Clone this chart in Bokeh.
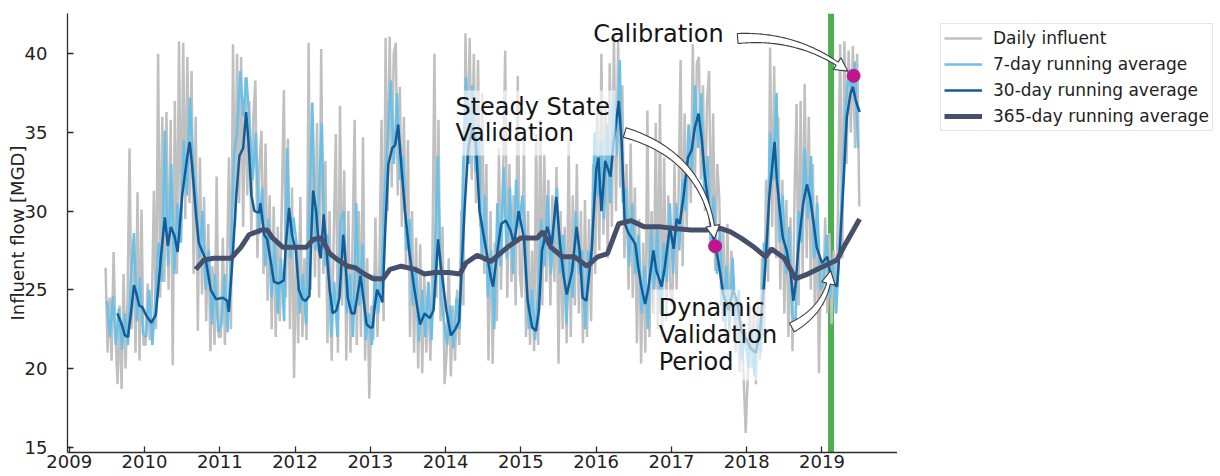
import numpy as np
from bokeh.plotting import figure
from bokeh.layouts import row
from bokeh.models import (Range1d, FixedTicker, PrintfTickFormatter, Span,
                          Legend, LegendItem)
from bokeh.core.properties import value
from bokeh.embed import file_html
from bokeh.resources import INLINE

FONT = "DejaVu Sans"

# ---------------------------------------------------------------------------
# Daily influent flow [MGD], sampled roughly every ten days, one list per year
# ---------------------------------------------------------------------------
influent_2009 = [26.4, 21.0, 24.5, 20.5, 27.4, 22.0, 19.0, 24.0, 18.7, 26.0,
                 20.0, 24.5, 34.0, 22.5, 27.7, 21.0, 31.2, 20.5, 30.1, 21.5]
influent_2010 = [21.5, 25.4, 21.8, 24.0, 31.3, 22.5, 40.0, 24.5, 36.0, 25.5,
                 36.3, 25.0, 35.8, 20.2, 37.0, 26.0, 40.8, 28.0, 40.7, 29.5,
                 39.8, 30.5, 38.9, 26.0, 36.0, 22.4, 33.4, 24.7, 30.9, 23.0,
                 29.2, 21.1, 26.5, 21.5, 32.2, 22.0]
influent_2011 = [22.0, 28.3, 21.5, 26.0, 33.4, 22.5, 40.6, 29.0, 40.0, 30.5,
                 39.8, 29.0, 38.5, 31.0, 37.0, 28.6, 36.0, 38.3, 27.0, 33.0,
                 35.1, 26.0, 34.3, 24.3, 31.0, 22.5, 30.3, 22.0, 29.0, 23.0,
                 30.5, 37.7, 24.5, 34.6, 22.5, 31.5, 19.4]
influent_2012 = [27.9, 21.6, 30.9, 22.0, 27.0, 21.8, 40.7, 25.0, 36.0, 25.8,
                 35.6, 24.5, 40.3, 26.0, 33.2, 21.6, 30.0, 20.5, 28.5, 34.9,
                 21.0, 36.7, 24.0, 32.6, 20.5, 30.0, 21.0, 28.0, 35.8, 21.5,
                 30.0, 22.0, 34.7, 20.5, 27.0, 18.1]
influent_2013 = [24.0, 21.8, 29.6, 22.0, 27.0, 35.8, 23.0, 41.0, 30.0, 41.1,
                 31.5, 40.0, 40.7, 31.0, 37.9, 29.0, 36.0, 26.5, 34.5, 22.0,
                 30.0, 21.0, 28.3, 20.0, 27.9, 19.7, 26.0, 21.0, 25.5, 20.5,
                 27.0, 40.0, 24.5, 35.8, 23.0, 29.0, 19.0]
influent_2014 = [21.0, 27.0, 19.5, 24.0, 20.5, 25.0, 21.5, 30.0, 24.0, 41.3,
                 33.0, 41.0, 32.0, 40.0, 30.5, 39.6, 29.0, 37.5, 26.0, 33.0,
                 20.5, 30.0, 20.3, 28.0, 23.0, 34.0, 25.0, 32.5, 40.2, 24.5,
                 33.0, 25.5, 31.0, 24.0, 38.6, 26.0]
influent_2015 = [24.5, 34.7, 22.0, 30.0, 21.5, 27.5, 21.1, 34.9, 21.5, 35.8,
                 24.0, 33.6, 25.5, 32.0, 24.0, 31.0, 25.5, 32.8, 20.3, 30.0,
                 22.5, 29.0, 21.6, 34.5, 22.0, 31.0, 24.0, 33.0, 23.5, 30.0,
                 21.6, 30.7, 22.0, 29.5, 23.0, 33.0, 26.0]
influent_2016 = [36.6, 27.5, 40.0, 28.5, 37.0, 27.0, 39.4, 29.0, 41.2, 30.0,
                 40.8, 31.5, 38.0, 27.0, 33.0, 25.0, 34.3, 24.5, 31.5, 21.6,
                 29.5, 20.3, 28.0, 21.0, 36.4, 22.0, 30.0, 23.5, 35.6, 22.5,
                 36.8, 22.0, 33.4, 23.0, 31.0, 25.0]
influent_2017 = [24.0, 33.0, 25.0, 31.0, 39.6, 26.5, 36.2, 29.0, 35.5, 30.5,
                 40.6, 31.5, 39.4, 39.8, 32.0, 38.0, 30.0, 37.0, 38.9, 28.0,
                 36.2, 26.2, 33.0, 30.9, 24.0, 29.0, 21.6, 29.2, 22.0, 27.5,
                 25.2, 21.0, 24.5, 19.8, 23.0, 19.4, 15.9]
influent_2018 = [19.5, 24.0, 20.0, 23.5, 19.0, 24.3, 20.5, 27.0, 22.0, 32.0,
                 25.5, 40.4, 29.0, 39.2, 27.0, 36.0, 25.0, 32.0, 23.5, 30.7,
                 22.0, 29.6, 21.1, 31.0, 36.8, 24.0, 37.0, 26.0, 38.1, 27.0,
                 36.0, 25.0, 33.0, 23.5, 31.0, 19.7, 27.0]
influent_2019 = [24.0, 29.6, 23.5, 28.6, 22.8, 27.5, 23.5, 30.0, 40.6, 27.0,
                 40.8, 33.0, 40.2, 35.0, 40.5, 34.0, 40.0, 30.3]

# ---------------------------------------------------------------------------
# 7-day running average [MGD], twice a month, one list per year
# ---------------------------------------------------------------------------
week_2009 = [24.3, 22.0, 24.6, 21.5, 23.8, 21.2, 23.5, 21.5, 26.0, 28.6,
             23.0, 25.8, 22.2]
week_2010 = [22.0, 25.0, 21.5, 24.5, 28.0, 25.5, 35.1, 26.5, 33.0, 26.0,
             30.5, 28.0, 34.5, 31.0, 37.2, 33.0, 31.0, 27.0, 30.0, 25.0,
             27.5, 22.8, 26.0, 22.3]
week_2011 = [22.8, 26.0, 22.3, 27.0, 33.5, 35.0, 38.9, 36.0, 38.5, 35.5,
             32.0, 35.0, 28.5, 31.5, 26.5, 29.5, 24.5, 28.0, 23.5, 27.0,
             23.0, 34.0, 27.0, 29.6]
week_2012 = [27.9, 23.5, 26.0, 22.8, 30.0, 36.9, 27.5, 30.5, 35.6, 26.5,
             28.5, 22.0, 25.5, 22.0, 29.4, 30.0, 23.5, 26.0, 22.0, 30.5,
             24.0, 27.9, 21.8, 23.5]
week_2013 = [21.5, 26.0, 23.5, 26.0, 31.0, 34.5, 38.3, 33.0, 37.5, 32.0,
             33.5, 27.5, 29.5, 24.0, 26.5, 21.7, 25.0, 22.0, 25.5, 21.8,
             27.0, 33.5, 24.5, 23.0]
week_2014 = [21.5, 24.0, 21.3, 24.5, 22.5, 32.0, 38.5, 33.0, 38.0, 32.5,
             35.5, 27.0, 31.0, 24.5, 27.5, 22.5, 30.5, 26.5, 32.8, 27.0,
             31.5, 26.0, 32.0, 29.0]
week_2015 = [31.0, 28.0, 22.5, 25.0, 21.8, 25.0, 29.5, 26.5, 31.0, 26.0,
             28.5, 31.5, 26.0, 28.5, 22.8, 27.0, 24.5, 30.0, 26.0, 27.5,
             22.5, 27.5, 26.5, 35.0]
week_2016 = [31.0, 34.5, 29.5, 35.5, 30.5, 37.5, 33.5, 39.6, 30.5, 31.5,
             26.5, 30.5, 26.0, 28.5, 23.5, 26.5, 22.5, 29.0, 25.0, 29.0,
             23.5, 28.0, 25.5, 30.5]
week_2017 = [26.0, 30.5, 27.5, 32.0, 30.0, 35.5, 32.0, 38.0, 34.0, 37.5,
             31.0, 33.5, 28.0, 31.0, 26.0, 29.0, 23.0, 26.5, 22.5, 27.0,
             23.0, 25.0, 20.5, 22.5]
week_2018 = [20.0, 22.5, 19.5, 23.0, 21.0, 28.0, 27.0, 35.0, 32.0, 37.5,
             28.0, 31.0, 26.0, 29.0, 23.5, 22.5, 30.0, 28.0, 34.0, 29.5,
             33.5, 27.0, 30.5, 25.0]
week_2019 = [25.5, 28.5, 24.5, 27.0, 23.5, 27.5, 32.0, 36.5, 39.0, 37.5,
             39.5, 34.0]

# ---------------------------------------------------------------------------
# 30-day running average [MGD]
# ---------------------------------------------------------------------------
avg30_year = [
    2009.64, 2009.69, 2009.74, 2009.78, 2009.82, 2009.86, 2009.89, 2009.93, 2009.97,
    2010.03, 2010.09, 2010.15, 2010.18, 2010.22, 2010.27, 2010.31, 2010.35, 2010.40,
    2010.44, 2010.50, 2010.57, 2010.60, 2010.63, 2010.68, 2010.72, 2010.77, 2010.81,
    2010.88, 2010.95, 2011.04, 2011.10, 2011.12, 2011.17, 2011.22, 2011.26, 2011.31,
    2011.35, 2011.38, 2011.42, 2011.46, 2011.52, 2011.54, 2011.59, 2011.63, 2011.67,
    2011.72, 2011.78, 2011.85, 2011.88, 2011.92, 2011.96, 2012.01, 2012.05, 2012.10,
    2012.14, 2012.19, 2012.22, 2012.24, 2012.28, 2012.32, 2012.34, 2012.38, 2012.41,
    2012.46, 2012.50, 2012.55, 2012.59, 2012.64, 2012.66, 2012.70, 2012.75, 2012.79,
    2012.84, 2012.87, 2012.92, 2012.95, 2013.00, 2013.03, 2013.06, 2013.09, 2013.14,
    2013.16, 2013.20, 2013.24, 2013.29, 2013.33, 2013.37, 2013.41, 2013.46, 2013.52,
    2013.58, 2013.66, 2013.72, 2013.79, 2013.84, 2013.90, 2013.94, 2014.01, 2014.07,
    2014.13, 2014.18, 2014.25, 2014.30, 2014.36, 2014.40, 2014.45, 2014.54, 2014.60,
    2014.63, 2014.70, 2014.74, 2014.80, 2014.86, 2014.91, 2014.97, 2015.04, 2015.09,
    2015.15, 2015.20, 2015.24, 2015.28, 2015.35, 2015.41, 2015.47, 2015.52, 2015.57,
    2015.61, 2015.68, 2015.74, 2015.78, 2015.82, 2015.87, 2015.94, 2016.00, 2016.03,
    2016.07, 2016.12, 2016.19, 2016.23, 2016.27, 2016.30, 2016.34, 2016.38, 2016.43,
    2016.47, 2016.52, 2016.56, 2016.60, 2016.65, 2016.69, 2016.76, 2016.80, 2016.87,
    2016.91, 2016.98, 2017.03, 2017.07, 2017.11, 2017.16, 2017.22, 2017.27, 2017.31,
    2017.36, 2017.40, 2017.44, 2017.49, 2017.54, 2017.58, 2017.62, 2017.69, 2017.76,
    2017.82, 2017.87, 2017.93, 2017.98, 2018.05, 2018.12, 2018.18, 2018.24, 2018.30,
    2018.37, 2018.40, 2018.44, 2018.48, 2018.53, 2018.58, 2018.62, 2018.65, 2018.69,
    2018.75, 2018.80, 2018.84, 2018.89, 2018.93, 2019.00, 2019.07, 2019.11, 2019.16,
    2019.20, 2019.24, 2019.29, 2019.33, 2019.38, 2019.41, 2019.45, 2019.50]
avg30_flow = [
    23.5, 22.9, 22.1, 22.0, 23.5, 25.3, 24.8, 24.0, 23.9,
    23.3, 22.9, 23.4, 25.0, 27.2, 29.6, 27.8, 29.0, 28.4,
    27.4, 31.0, 33.5, 34.4, 33.0, 30.0, 28.0, 27.4, 27.0,
    25.0, 24.4, 24.5, 24.3, 23.6, 27.0, 31.0, 33.5, 34.0,
    36.3, 34.5, 31.0, 30.0, 29.9, 30.5, 28.5, 28.2, 27.0,
    25.5, 25.4, 25.6, 28.0, 30.2, 28.5, 27.5, 25.0, 24.4,
    24.3, 24.6, 29.0, 31.3, 30.0, 27.5, 27.0, 29.8, 28.0,
    25.0, 23.5, 23.7, 24.5, 28.5, 27.5, 24.5, 23.5, 23.5,
    25.0, 25.9, 24.0, 22.8, 22.6, 22.6, 24.0, 25.0, 24.5,
    24.2, 29.0, 33.0, 34.0, 34.2, 35.5, 33.0, 30.0, 27.3,
    25.2, 22.8, 23.5, 23.2, 23.7, 28.2, 26.4, 23.7, 22.1,
    22.5, 23.0, 30.0, 34.0, 35.3, 34.5, 30.0, 27.5, 25.8,
    25.2, 27.9, 29.2, 29.4, 28.8, 27.9, 30.0, 28.3, 24.3,
    22.6, 22.4, 23.7, 27.5, 29.0, 27.9, 30.9, 27.9, 25.8,
    24.7, 26.2, 29.0, 27.5, 24.5, 24.3, 27.5, 32.6, 33.4,
    30.0, 33.2, 32.2, 34.3, 35.8, 37.0, 34.3, 29.2, 28.6,
    28.3, 27.9, 26.4, 25.2, 24.1, 25.0, 27.5, 26.2, 25.2,
    26.4, 29.0, 27.6, 29.5, 29.2, 30.9, 33.4, 33.9, 35.3,
    36.2, 34.7, 32.4, 30.5, 28.6, 27.8, 26.9, 24.7, 23.7,
    25.0, 24.3, 22.4, 22.0, 21.3, 21.0, 22.5, 26.0, 30.9,
    34.4, 32.0, 30.0, 28.3, 27.5, 26.2, 24.3, 25.4, 27.9,
    30.5, 31.7, 30.9, 29.2, 27.7, 26.7, 27.1, 26.0, 25.4,
    25.2, 27.9, 32.2, 36.0, 37.5, 37.9, 37.0, 36.3]

# ---------------------------------------------------------------------------
# 365-day running average [MGD]
# ---------------------------------------------------------------------------
avg365_year = [
    2010.68, 2010.79, 2010.92, 2011.15, 2011.28, 2011.39, 2011.55, 2011.63, 2011.70,
    2011.84, 2011.99, 2012.15, 2012.24, 2012.35, 2012.46, 2012.57, 2012.70, 2012.80,
    2012.92, 2013.04, 2013.17, 2013.26, 2013.41, 2013.59, 2013.72, 2013.86, 2014.04,
    2014.19, 2014.27, 2014.42, 2014.60, 2014.82, 2015.00, 2015.22, 2015.29, 2015.40,
    2015.55, 2015.71, 2015.88, 2016.02, 2016.15, 2016.30, 2016.46, 2016.64, 2016.86,
    2017.04, 2017.26, 2017.48, 2017.65, 2017.78, 2017.92, 2018.10, 2018.25, 2018.33,
    2018.50, 2018.65, 2018.81, 2018.98, 2019.20, 2019.31, 2019.50]
avg365_flow = [
    26.3, 26.9, 27.0, 27.0, 27.7, 28.5, 28.8, 28.8, 28.3,
    27.7, 27.7, 27.7, 28.2, 28.3, 27.3, 26.9, 26.5, 26.4,
    26.0, 25.7, 25.7, 26.3, 26.5, 26.3, 26.0, 26.1, 26.1,
    26.0, 26.7, 27.2, 26.8, 27.7, 28.3, 28.3, 28.7, 27.7,
    27.1, 27.1, 26.5, 27.1, 27.3, 29.2, 29.4, 29.0, 29.0,
    28.9, 28.8, 28.8, 28.9, 28.7, 28.3, 27.7, 27.1, 27.6,
    27.0, 25.7, 26.0, 26.4, 26.9, 27.9, 29.5]

# Model periods: calibration start and the two highlighted dates
calibration_start = 2019.12
event_name = ["Steady State Validation", "Calibration"]
event_year = [2017.58, 2019.42]
event_flow = [27.77, 38.6]

# Axis ticks
x_ticks = [2009, 2010, 2011, 2012, 2013, 2014, 2015, 2016, 2017, 2018, 2019]
y_ticks = [15, 20, 25, 30, 35, 40]

# Series styles
COLOR_DAILY, WIDTH_DAILY = "#c0c0c0", 2.5
COLOR_WEEK, WIDTH_WEEK = "#6cc0e6", 2.5
COLOR_30, WIDTH_30 = "#125c99", 2.5
COLOR_365, WIDTH_365 = "#464f6b", 5

# ---------------------------------------------------------------------------
# Assemble the sampled series along a decimal-year axis
# ---------------------------------------------------------------------------
def spread(year, n, start=0.0, end=1.0):
    """Evenly place n samples inside [year+start, year+end)."""
    k = np.arange(n)
    return year + start + (k + 0.5) * (end - start) / n

daily_lists = [influent_2009, influent_2010, influent_2011, influent_2012,
               influent_2013, influent_2014, influent_2015, influent_2016,
               influent_2017, influent_2018, influent_2019]
week_lists = [week_2009, week_2010, week_2011, week_2012, week_2013, week_2014,
              week_2015, week_2016, week_2017, week_2018, week_2019]
years = list(range(2009, 2020))

def assemble(lists, first_start, last_end):
    xs, ys = [], []
    for i, (yr, vals) in enumerate(zip(years, lists)):
        start = first_start if i == 0 else 0.0
        end = last_end if i == len(years) - 1 else 1.0
        xs.append(spread(yr, len(vals), start, end))
        ys.append(np.asarray(vals, dtype=float))
    return np.concatenate(xs), np.concatenate(ys)

daily_x, daily_y = assemble(daily_lists, 0.47, 0.51)
week_x, week_y = assemble(week_lists, 0.48, 0.50)

# ---------------------------------------------------------------------------
# Main figure
# ---------------------------------------------------------------------------
X0, X1 = 2008.977, 2020.003
Y0, Y1 = 14.66, 42.56
MAIN_W, FIG_H = 897, 476
B_LEFT, B_RIGHT, B_TOP, B_BOTTOM = 67, 0, 13, 24
FRAME_W = MAIN_W - B_LEFT - B_RIGHT
FRAME_H = FIG_H - B_TOP - B_BOTTOM

p = figure(width=MAIN_W, height=FIG_H, x_range=Range1d(X0, X1), y_range=Range1d(Y0, Y1),
           output_backend="svg", toolbar_location=None,
           min_border_left=B_LEFT, min_border_right=B_RIGHT,
           min_border_top=B_TOP, min_border_bottom=B_BOTTOM)
p.outline_line_color = None
p.background_fill_color = "white"
p.border_fill_color = "white"
p.xgrid.visible = False
p.ygrid.visible = False

for ax in (p.xaxis[0], p.yaxis[0]):
    ax.axis_line_color = "#2b2b2b"
    ax.axis_line_width = 1.3
    ax.major_tick_line_color = "#2b2b2b"
    ax.major_tick_line_width = 1.3
    ax.major_tick_in = 6
    ax.major_tick_out = 0
    ax.minor_tick_line_color = None
    ax.major_label_text_font = FONT
    ax.major_label_text_font_size = "18px"
    ax.major_label_text_color = "#222222"

p.xaxis.ticker = FixedTicker(ticks=x_ticks, minor_ticks=[])
p.yaxis.ticker = FixedTicker(ticks=y_ticks, minor_ticks=[])
p.xaxis.formatter = PrintfTickFormatter(format="%d")
p.yaxis.formatter = PrintfTickFormatter(format="%d")
p.xaxis.major_label_standoff = 2
p.yaxis.major_label_standoff = 20
p.yaxis.axis_label = "Influent flow [MGD]"
p.yaxis.axis_label_text_font = FONT
p.yaxis.axis_label_text_font_size = "18px"
p.yaxis.axis_label_text_font_style = "normal"
p.yaxis.axis_label_text_color = "#222222"
p.yaxis.axis_label_standoff = -6

# start of the calibration period
p.add_layout(Span(location=calibration_start, dimension="height",
                  line_color="#4caf50", line_width=6, level="underlay"))

p.line(daily_x, daily_y, line_color=COLOR_DAILY, line_width=WIDTH_DAILY)
p.line(week_x, week_y, line_color=COLOR_WEEK, line_width=WIDTH_WEEK)
p.line(avg30_year, avg30_flow, line_color=COLOR_30, line_width=WIDTH_30)
p.line(avg365_year, avg365_flow, line_color=COLOR_365, line_width=WIDTH_365)

# ---------------------------------------------------------------------------
# Annotations
# ---------------------------------------------------------------------------
def to_screen(x, y):
    return ((np.asarray(x) - X0) / (X1 - X0) * FRAME_W,
            FRAME_H - (np.asarray(y) - Y0) / (Y1 - Y0) * FRAME_H)

def to_data(sx, sy):
    return (X0 + np.asarray(sx) / FRAME_W * (X1 - X0),
            Y0 + (FRAME_H - np.asarray(sy)) / FRAME_H * (Y1 - Y0))

def fancy_arrow(tail, target, rad, trim, w_tail=5.0, w_neck=1.8, w_head=7.0, head_len=13.0):
    """Curved, tapering arrow outline (screen-space shape) returned in data units."""
    x0, y0 = to_screen(*tail)
    x2, y2 = to_screen(*target)
    dx, dy = x2 - x0, y2 - y0
    cx, cy = (x0 + x2) / 2 + rad * dy, (y0 + y2) / 2 - rad * dx
    t = np.linspace(0, 1, 600)
    bx = (1 - t) ** 2 * x0 + 2 * (1 - t) * t * cx + t ** 2 * x2
    by = (1 - t) ** 2 * y0 + 2 * (1 - t) * t * cy + t ** 2 * y2
    tx = 2 * (1 - t) * (cx - x0) + 2 * t * (x2 - cx)
    ty = 2 * (1 - t) * (cy - y0) + 2 * t * (y2 - cy)
    s = np.concatenate([[0.0], np.cumsum(np.hypot(np.diff(bx), np.diff(by)))])
    s_tip = s[-1] - trim
    s_neck = s_tip - head_len

    def at(sv):
        px, py = np.interp(sv, s, bx), np.interp(sv, s, by)
        ux, uy = np.interp(sv, s, tx), np.interp(sv, s, ty)
        norm = np.hypot(ux, uy)
        return px, py, -uy / norm, ux / norm

    sv = np.linspace(0, s_neck, 60)
    px, py, nx, ny = at(sv)
    w = w_tail + (w_neck - w_tail) * sv / s_neck
    left = (px + nx * w, py + ny * w)
    right = (px - nx * w, py - ny * w)
    hx, hy, hnx, hny = at(np.array([s_neck]))
    tipx, tipy, _, _ = at(np.array([s_tip]))
    xs = np.concatenate([left[0], hx + hnx * w_head, tipx, hx - hnx * w_head, right[0][::-1]])
    ys = np.concatenate([left[1], hy + hny * w_head, tipy, hy - hny * w_head, right[1][::-1]])
    return to_data(xs, ys)

# translucent boxes behind the multi-line labels
box_left = [2014.065, 2016.75]
box_right = [2016.257, 2018.45]
box_top = [37.67, 25.02]
box_bottom = [33.54, 19.24]
p.quad(left=box_left, right=box_right, top=box_top, bottom=box_bottom,
       fill_color="white", fill_alpha=0.62, line_color=None)

note_text = ["Calibration", "Steady State", "Validation", "Dynamic", "Validation", "Period"]
note_x = [2015.96, 2014.13, 2014.13, 2016.83, 2016.83, 2016.83]
note_y = [41.23, 36.59, 34.94, 23.82, 22.10, 20.38]
p.text(x=note_x, y=note_y, text=note_text, text_font=value(FONT),
       text_font_size="24px", text_align="left", text_baseline="middle",
       text_color="#151515")

# arrows: label -> highlighted date
arrow_specs = [
    ((2017.88, 40.97), (event_year[1], event_flow[1]), 0.2, 7.5),
    ((2016.38, 35.00), (event_year[0], event_flow[0]), 0.35, 7.5),
    ((2018.60, 22.61), (calibration_start,
                        float(np.interp(calibration_start, avg365_year, avg365_flow))), -0.3, 8.0),
]
arrow_xs, arrow_ys = [], []
for tail, target, rad, trim in arrow_specs:
    ax_, ay_ = fancy_arrow(tail, target, rad, trim)
    arrow_xs.append(list(ax_))
    arrow_ys.append(list(ay_))
p.patches(arrow_xs, arrow_ys, fill_color="white", line_color="#3c3c3c", line_width=1.1)

p.scatter(event_year, event_flow, size=13, fill_color="#c0168c", line_color="#c0168c")

# ---------------------------------------------------------------------------
# Legend panel to the right of the axes
# ---------------------------------------------------------------------------
LEG_W = 1220 - MAIN_W
lf = figure(width=LEG_W, height=FIG_H, x_range=Range1d(0, 1), y_range=Range1d(0, 1),
            output_backend="svg", toolbar_location=None,
            x_axis_location=None, y_axis_location=None, min_border=0)
lf.outline_line_color = None
lf.xgrid.visible = False
lf.ygrid.visible = False
lf.background_fill_color = "white"
lf.border_fill_color = "white"

# key lines live outside the visible range of this panel; only their legend glyphs show
off = ([5, 6], [5, 6])
k_daily = lf.line(*off, line_color=COLOR_DAILY, line_width=WIDTH_DAILY)
k_week = lf.line(*off, line_color=COLOR_WEEK, line_width=WIDTH_WEEK)
k_30 = lf.line(*off, line_color=COLOR_30, line_width=WIDTH_30)
k_365 = lf.line(*off, line_color=COLOR_365, line_width=WIDTH_365)

legend = Legend(items=[
    LegendItem(label="Daily influent", renderers=[k_daily]),
    LegendItem(label="7-day running average", renderers=[k_week]),
    LegendItem(label="30-day running average", renderers=[k_30]),
    LegendItem(label="365-day running average", renderers=[k_365]),
])
legend.location = (43, 321)
legend.margin = 0
legend.padding = 3
legend.spacing = 4
legend.glyph_width = 38
legend.glyph_height = 22
legend.label_height = 22
legend.label_standoff = 11
legend.label_text_font = FONT
legend.label_text_font_size = "17px"
legend.label_text_color = "#222222"
legend.border_line_color = "#cccccc"
legend.border_line_width = 1
legend.background_fill_color = "white"
legend.background_fill_alpha = 1.0
lf.add_layout(legend)

layout = row(p, lf)
open("out.html", "w").write(file_html(layout, INLINE))
